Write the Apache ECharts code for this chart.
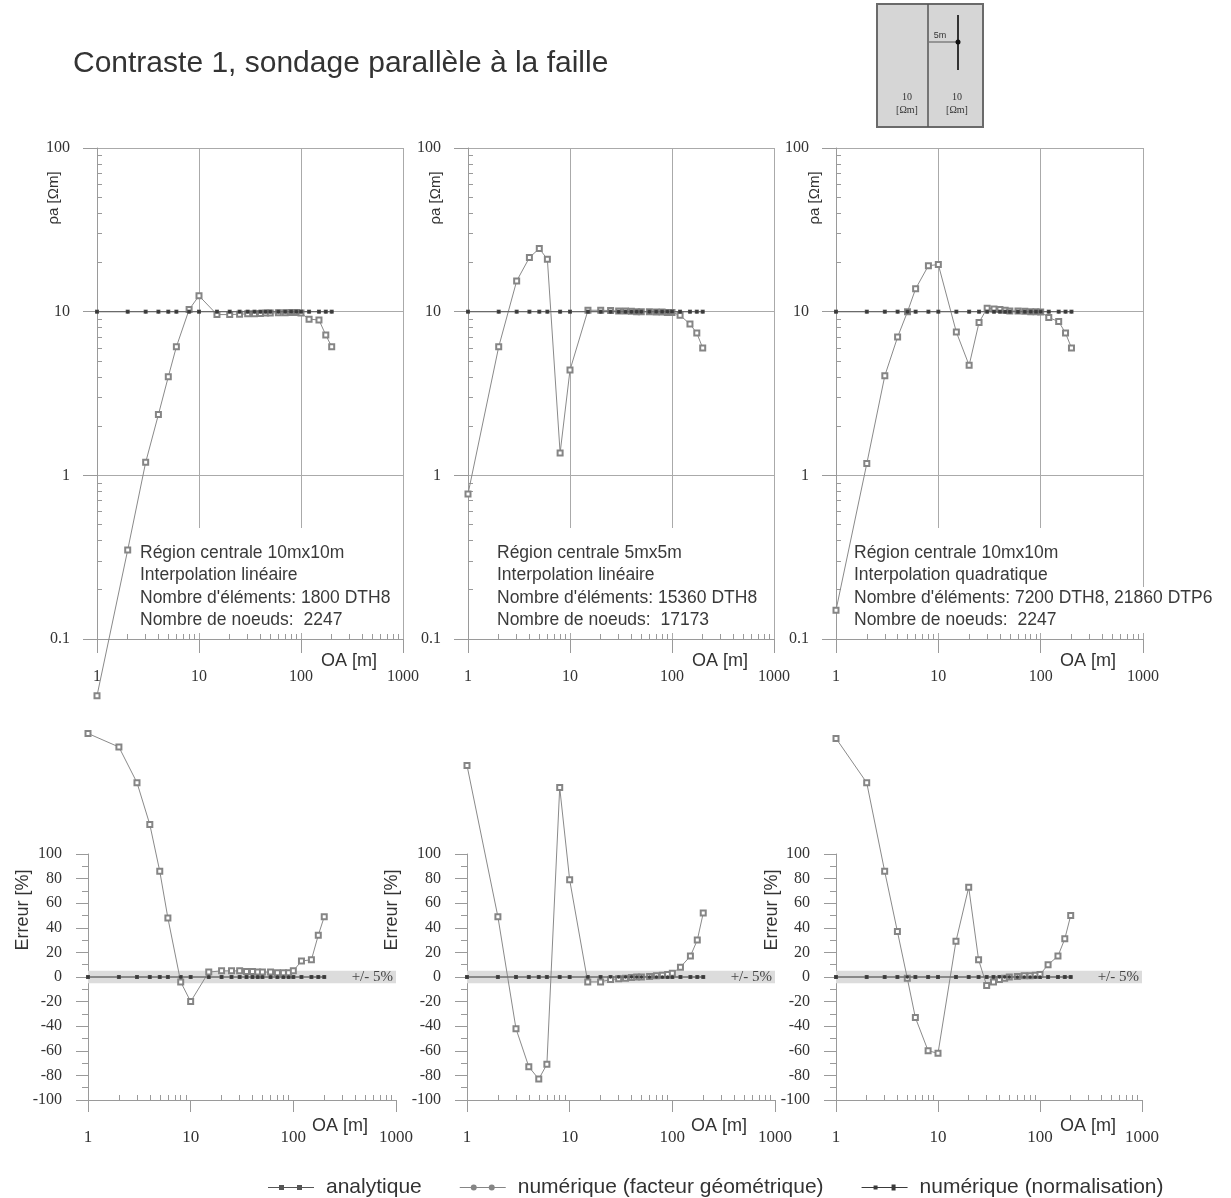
<!DOCTYPE html>
<html><head><meta charset="utf-8">
<script src="https://cdn.jsdelivr.net/npm/echarts@6/dist/echarts.min.js"></script>
<style>html,body{margin:0;padding:0;background:#fff}#c{width:1231px;height:1198px}</style>
</head><body><div id="c"></div>
<script>
// ---------- data ----------
const oa = [1,2,3,4,5,6,8,10,15,20,25,30,35,40,45,50,60,70,80,90,100,120,150,175,200];
const rhoAnalytique = [10,10,10,10,10,10,10,10,10,10,10,10,10,10,10,10,10,10,10,10,10,10,10,10,10];
const rhoNormalisation = [10,10,10,10,10,10,10,10,10,10,10,10,10,10,10,10,10,10,10,10,10,10,10,10,10];
const rhoGeo1 = [0.045,0.35,1.2,2.35,4.0,6.1,10.3,12.5,9.6,9.6,9.65,9.7,9.7,9.75,9.8,9.8,9.85,9.85,9.9,9.9,9.8,9.0,8.9,7.2,6.1];
const rhoGeo2 = [0.77,6.1,15.4,21.4,24.3,20.9,1.37,4.4,10.2,10.2,10.15,10.1,10.1,10.05,10.0,10.0,10.0,9.95,9.95,9.9,9.9,9.5,8.4,7.4,6.0];
const rhoGeo3 = [0.15,1.18,4.06,7.0,10.0,13.8,19.1,19.4,7.5,4.7,8.6,10.5,10.4,10.3,10.2,10.1,10.1,10.05,10.0,10.0,9.95,9.2,8.7,7.4,6.0];
const errAnalytique = [0,0,0,0,0,0,0,0,0,0,0,0,0,0,0,0,0,0,0,0,0,0,0,0,0];
const errNormalisation = [0,0,0,0,0,0,0,0,0,0,0,0,0,0,0,0,0,0,0,0,0,0,0,0,0];
const errGeo1 = [198,187,158,124,86,48,-4,-20,4,5,5,5,4.5,4.5,4,4,4,3.5,3.5,3.5,5,13,14,34,49];
const errGeo2 = [172,49,-42,-73,-83,-71,154,79,-4,-4,-2,-1.5,-1,-0.5,0,0,0.5,1,1.5,2,3,8,17,30,52];
const errGeo3 = [194,158,86,37,-1,-33,-60,-62,29,73,14,-7,-4,-2,-1,0,0.5,1,1,1.5,2,10,17,31,50];
const xMinorTicks = [2,3,4,5,6,7,8,9,20,30,40,50,60,70,80,90,200,300,400,500,600,700,800,900];
const rhoMinorTicks = [0.2,0.3,0.4,0.5,0.6,0.7,0.8,0.9,2,3,4,5,6,7,8,9,20,30,40,50,60,70,80,90];
const seriesNames = ['analytique','numérique (facteur géométrique)','numérique (normalisation)'];
const bandLabel = '+/- 5%';
const notes = [
  ['Région centrale 10mx10m','Interpolation linéaire',"Nombre d'éléments: 1800 DTH8",'Nombre de noeuds:  2247'],
  ['Région centrale 5mx5m','Interpolation linéaire',"Nombre d'éléments: 15360 DTH8",'Nombre de noeuds:  17173'],
  ['Région centrale 10mx10m','Interpolation quadratique',"Nombre d'éléments: 7200 DTH8, 21860 DTP6",'Nombre de noeuds:  2247']
];
const titleText = 'Contraste 1, sondage parallèle à la faille';

// ---------- layout ----------
const SANS = 'Liberation Sans, Arial, sans-serif';
const SERIF = 'Liberation Serif, Times New Roman, serif';
const AX = '#9a9a9a';
const topGrids = [{left:97,width:306},{left:468,width:306},{left:836,width:307}];
const botGrids = [{left:88,width:308},{left:467,width:308},{left:836,width:306}];
const TOP_T = 148, TOP_H = 491, BOT_T = 854, BOT_H = 246;

const grid = [], xAxis = [], yAxis = [], series = [], graphic = [];
const pairs = (xs, ys) => xs.map((x, i) => [x, ys[i]]);
const plain = v => String(+(+v).toPrecision(4));

function styleGeo(){ return {symbol:'emptyRect',symbolSize:5,itemStyle:{color:'#858585',borderWidth:1},lineStyle:{color:'#8a8a8a',width:1}}; }
function styleAna(){ return {symbol:'rect',symbolSize:4,itemStyle:{color:'#555'},lineStyle:{color:'#7a7a7a',width:1}}; }
function styleNorm(){ return {symbol:'circle',symbolSize:3.5,itemStyle:{color:'#3a3a3a'},lineStyle:{color:'#666',width:1}}; }

function addLogX(g, labelMargin, tickLen, split, fs){
  const major = xAxis.length;
  xAxis.push({type:'log',gridIndex:g,min:1,max:1000,position:'bottom',logBase:10,
    axisLine:{show:true,onZero:false,lineStyle:{color:AX,width:1}},
    axisTick:{show:true,inside:false,length:tickLen,lineStyle:{color:AX}},
    axisLabel:{show:true,margin:labelMargin,fontFamily:SERIF,fontSize:fs,color:'#333',formatter:plain},
    splitLine:{show:split,lineStyle:{color:'#aaa',width:1}},minorTick:{show:false},axisPointer:{show:false}});
  xAxis.push({type:'log',gridIndex:g,min:1,max:1000,position:'bottom',silent:true,
    axisLine:{show:false,onZero:false},
    axisTick:{show:true,inside:true,length:5,customValues:xMinorTicks,lineStyle:{color:AX}},
    axisLabel:{show:false},splitLine:{show:false}});
  return major;
}

// top panels
const rhoGeo = [rhoGeo1, rhoGeo2, rhoGeo3];
topGrids.forEach((tg, i) => {
  const g = grid.length;
  grid.push({left:tg.left,top:TOP_T,width:tg.width,height:TOP_H,containLabel:false});
  const xi = addLogX(g, 30, 14, true, 16);
  const yi = yAxis.length;
  yAxis.push({type:'log',gridIndex:g,min:0.1,max:100,position:'left',
    axisLine:{show:true,onZero:false,lineStyle:{color:AX}},
    axisTick:{show:true,inside:false,length:14,lineStyle:{color:AX}},
    axisLabel:{show:true,margin:27,fontFamily:SERIF,fontSize:16,color:'#333',formatter:plain},
    splitLine:{show:true,lineStyle:{color:'#aaa',width:1}}});
  yAxis.push({type:'log',gridIndex:g,min:0.1,max:100,position:'left',silent:true,
    axisLine:{show:false,onZero:false},
    axisTick:{show:true,inside:true,length:5,customValues:rhoMinorTicks,lineStyle:{color:AX}},
    axisLabel:{show:false},splitLine:{show:false}});
  const common = {type:'line',xAxisIndex:xi,yAxisIndex:yi,clip:false,animation:false,silent:true};
  series.push(Object.assign({}, common, styleGeo(), {name:seriesNames[1],data:pairs(oa, rhoGeo[i]),z:3}));
  series.push(Object.assign({}, common, styleAna(), {name:seriesNames[0],data:pairs(oa, rhoAnalytique),z:4}));
  series.push(Object.assign({}, common, styleNorm(), {name:seriesNames[2],data:pairs(oa, rhoNormalisation),z:5}));
});

// bottom panels
const errGeo = [errGeo1, errGeo2, errGeo3];
botGrids.forEach((bg, i) => {
  const g = grid.length;
  grid.push({left:bg.left,top:BOT_T,width:bg.width,height:BOT_H,containLabel:false});
  const xi = addLogX(g, 29, 12, false, 17);
  const yi = yAxis.length;
  yAxis.push({type:'value',gridIndex:g,min:-100,max:100,interval:20,position:'left',
    axisLine:{show:true,onZero:false,lineStyle:{color:AX}},
    axisTick:{show:true,inside:false,length:12,lineStyle:{color:AX}},
    minorTick:{show:true,splitNumber:2,length:6,lineStyle:{color:AX}},
    axisLabel:{show:true,margin:26,fontFamily:SERIF,fontSize:16,color:'#333'},
    splitLine:{show:false}});
  const common = {type:'line',xAxisIndex:xi,yAxisIndex:yi,clip:false,animation:false,silent:true};
  series.push(Object.assign({}, common, styleAna(), {name:seriesNames[0],data:pairs(oa, errAnalytique),z:2,
    markArea:{silent:true,itemStyle:{color:'#dcdcdc'},
      label:{show:true,position:'insideRight',distance:3,formatter:bandLabel,fontFamily:SERIF,fontSize:15,color:'#444'},
      data:[[{coord:[1,-5]},{coord:[1000,5]}]]}}));
  series.push(Object.assign({}, common, styleGeo(), {name:seriesNames[1],data:pairs(oa, errGeo[i]),z:3}));
  series.push(Object.assign({}, common, styleNorm(), {name:seriesNames[2],data:pairs(oa, errNormalisation),z:5}));
});

// ---------- texts & decorations ----------
const noteX = [140, 497, 854];
const boxes = [[136,528,265,105],[493,528,279,105],[850,528,291,105],[1141,587,82,46]];
boxes.forEach(b => graphic.push({type:'rect',z:1,silent:true,shape:{x:b[0],y:b[1],width:b[2],height:b[3]},style:{fill:'#fff'}}));
notes.forEach((lines, i) => lines.forEach((t, k) => graphic.push({type:'text',z:6,silent:true,x:noteX[i],y:553+k*22.5,
  style:{text:t,fontFamily:SANS,fontSize:17.5,fill:'#3a3a3a',verticalAlign:'middle',align:'left'}})));
// axis names
const rhoNameX = [54, 436, 815];
rhoNameX.forEach(x => graphic.push({type:'text',z:6,silent:true,x:x,y:198,rotation:Math.PI/2,
  style:{text:'ρa [Ωm]',fontFamily:SANS,fontSize:15,fill:'#333',align:'center',verticalAlign:'middle'}}));
const errNameX = [23, 392, 772];
errNameX.forEach(x => graphic.push({type:'text',z:6,silent:true,x:x,y:910,rotation:Math.PI/2,
  style:{text:'Erreur [%]',fontFamily:SANS,fontSize:18,fill:'#333',align:'center',verticalAlign:'middle'}}));
topGrids.forEach(tg => graphic.push({type:'text',z:6,silent:true,x:tg.left+252,y:661,
  style:{text:'OA [m]',fontFamily:SANS,fontSize:18,fill:'#333',align:'center',verticalAlign:'middle'}}));
botGrids.forEach(bg => graphic.push({type:'text',z:6,silent:true,x:bg.left+252,y:1126,
  style:{text:'OA [m]',fontFamily:SANS,fontSize:18,fill:'#333',align:'center',verticalAlign:'middle'}}));
// inset diagram
graphic.push({type:'rect',z:1,silent:true,shape:{x:877,y:4,width:106,height:123},style:{fill:'#d6d6d6',stroke:'#6a6a6a',lineWidth:2}});
graphic.push({type:'line',z:2,silent:true,shape:{x1:928,y1:4,x2:928,y2:127},style:{stroke:'#555',lineWidth:1.5}});
graphic.push({type:'line',z:2,silent:true,shape:{x1:958,y1:15,x2:958,y2:70},style:{stroke:'#333',lineWidth:2}});
graphic.push({type:'line',z:2,silent:true,shape:{x1:929,y1:42,x2:956,y2:42},style:{stroke:'#555',lineWidth:1}});
graphic.push({type:'circle',z:3,silent:true,shape:{cx:958,cy:42,r:2.5},style:{fill:'#111'}});
graphic.push({type:'text',z:3,silent:true,x:940,y:36,style:{text:'5m',fontFamily:SANS,fontSize:9,fill:'#333',align:'center',verticalAlign:'middle'}});
[[907,'10',97],[907,'[Ωm]',110],[957,'10',97],[957,'[Ωm]',110]].forEach(a => graphic.push({type:'text',z:3,silent:true,x:a[0],y:a[2],
  style:{text:a[1],fontFamily:SERIF,fontSize:10,fill:'#333',align:'center',verticalAlign:'middle'}}));

const iconAna = 'path://M0,3.5L46,3.5L46,4.5L0,4.5Z M11,1.5L16,1.5L16,6.5L11,6.5Z M29,1.5L34,1.5L34,6.5L29,6.5Z';
const iconGeo = 'path://M0,3.5L46,3.5L46,4.5L0,4.5Z M17,4A3,3,0,1,1,11,4A3,3,0,1,1,17,4Z M35,4A3,3,0,1,1,29,4A3,3,0,1,1,35,4Z';
const iconNorm = 'path://M0,3.5L46,3.5L46,4.5L0,4.5Z M12,2L16,2L16,6L12,6Z M30,1L34,1L34,7L30,7Z';

const option = {
  backgroundColor:'#fff',
  animation:false,
  title:{text:titleText,left:68,top:44,textStyle:{fontFamily:SANS,fontSize:30,fontWeight:'normal',color:'#333'}},
  legend:{left:263,top:1172,itemWidth:46,itemHeight:8,itemGap:38,selectedMode:false,
    textStyle:{fontFamily:SANS,fontSize:21,color:'#333',padding:[0,0,0,7]},
    data:[{name:seriesNames[0],icon:iconAna},{name:seriesNames[1],icon:iconGeo},{name:seriesNames[2],icon:iconNorm}]},
  grid, xAxis, yAxis, series, graphic
};
const chart = echarts.init(document.getElementById('c'), null, {renderer:'canvas'});
chart.setOption(option);
</script></body></html>
